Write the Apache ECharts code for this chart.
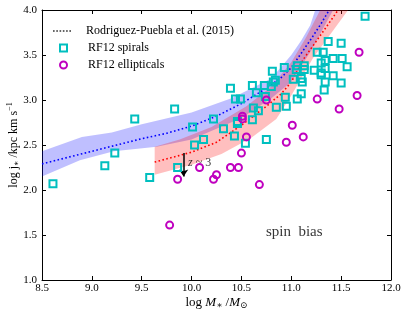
<!DOCTYPE html>
<html><head><meta charset="utf-8">
<script src="https://cdn.jsdelivr.net/npm/echarts@6/dist/echarts.min.js"></script>
<style>html,body{margin:0;padding:0;background:#fff}#c{width:407px;height:315px}</style>
</head><body><div id="c"></div>
<script>
// ---- data ----
const xTicks = [8.5, 12.0];  // x range, interval 0.5
const yTicks = [1.0, 4.0];   // y range, interval 0.5

const rpBlueLine = [[8.5,2.29],[8.75,2.36],[9.0,2.43],[9.25,2.50],[9.5,2.57],[9.75,2.63],[10.0,2.71],[10.25,2.82],[10.5,2.96],[10.75,3.13],[10.9,3.25],[11.0,3.36],[11.1,3.52],[11.2,3.68],[11.3,3.85],[11.38,4.0]];
const rpBlueUpper = [[8.5,2.43],[8.9,2.59],[9.2,2.64],[9.5,2.73],[10.0,2.86],[10.4,3.02],[10.8,3.24],[11.0,3.50],[11.1,3.66],[11.19,3.83],[11.24,4.0]];
const rpBlueLower = [[8.5,2.15],[8.88,2.33],[9.22,2.43],[9.65,2.48],[10.0,2.56],[10.5,2.80],[10.8,3.02],[11.0,3.20],[11.2,3.55],[11.42,4.0]];

const rpRedLine = [[9.63,2.31],[10.0,2.42],[10.25,2.53],[10.5,2.72],[10.75,2.93],[10.9,3.07],[11.0,3.20],[11.12,3.45],[11.3,3.73],[11.47,4.0]];
const rpRedUpper = [[9.63,2.48],[9.88,2.56],[10.2,2.70],[10.55,2.93],[10.8,3.15],[11.0,3.42],[11.15,3.70],[11.29,4.0]];
const rpRedLower = [[9.63,2.17],[10.0,2.28],[10.3,2.40],[10.6,2.58],[10.85,2.79],[11.0,3.05],[11.22,3.47],[11.57,4.0]];

const spirals = [[8.61,2.07],[9.13,2.27],[9.23,2.41],[9.43,2.79],[9.58,2.14],[9.83,2.90],[9.86,2.25],[10.01,2.70],[10.03,2.50],[10.12,2.56],[10.22,2.79],[10.32,2.68],[10.39,3.13],[10.43,2.60],[10.44,3.01],[10.46,2.76],[10.46,2.74],[10.49,3.01],[10.54,2.52],[10.61,3.16],[10.61,2.78],[10.62,2.91],[10.65,3.08],[10.67,2.88],[10.73,3.16],[10.74,3.04],[10.75,2.56],[10.80,3.15],[10.81,3.32],[10.82,3.20],[10.84,3.22],[10.85,2.92],[10.93,3.36],[10.94,3.03],[10.95,2.93],[11.02,3.23],[11.05,3.34],[11.06,3.38],[11.06,3.01],[11.10,3.24],[11.10,3.07],[11.11,3.20],[11.13,3.38],[11.13,3.34],[11.23,3.33],[11.26,3.53],[11.30,3.41],[11.30,3.30],[11.30,3.28],[11.32,3.53],[11.33,3.11],[11.34,3.44],[11.34,3.35],[11.34,3.20],[11.37,3.65],[11.42,3.46],[11.42,3.27],[11.50,3.63],[11.50,3.19],[11.51,3.46],[11.56,3.37],[11.74,3.93]];
const ellipticals = [[9.78,1.61],[9.86,2.12],[10.08,2.25],[10.22,2.12],[10.25,2.17],[10.39,2.25],[10.47,2.25],[10.50,2.41],[10.51,2.82],[10.51,2.79],[10.55,2.59],[10.68,2.06],[10.75,3.00],[10.95,2.53],[11.01,2.72],[11.12,2.59],[11.26,3.01],[11.48,2.90],[11.66,3.05],[11.68,3.53]];

const arrowFrom = [9.92, 2.41];
const arrowTo = [9.92, 2.15];
const zLabelPos = [10.08, 2.30];
const spinLabelPos = [11.03, 1.53];

const legendNames = ['Rodriguez-Puebla et al. (2015)', 'RF12 spirals', 'RF12 ellipticals'];

// ---- chart ----
const SERIF = '"Liberation Serif","DejaVu Serif",serif';
const DOTTED_ICON = 'path://M0 0h1.5v1.5H0zM3 0h1.5v1.5H3zM6 0h1.5v1.5H6zM9 0h1.5v1.5H9zM12 0h1.5v1.5H12zM15 0h1.5v1.5H15z';
const chart = echarts.init(document.getElementById('c'));

function band(upper, lower, color, z) {
  return {
    type: 'custom', silent: true, z: z, data: [[10, 2.5]],
    renderItem: function (params, api) {
      const pts = upper.map(p => api.coord(p)).concat(lower.slice().reverse().map(p => api.coord(p)));
      return { type: 'polygon', shape: { points: pts }, style: { fill: color } };
    }
  };
}

const axisCommon = {
  type: 'value', interval: 0.5, splitLine: { show: false },
  axisLine: { show: true, onZero: false, lineStyle: { color: '#000', width: 1 } },
  axisTick: { show: true, inside: true, length: 4, lineStyle: { color: '#000' } }
};

const legendText = { fontFamily: SERIF, fontSize: 12, color: '#000', lineHeight: 12 };

chart.setOption({
  animation: false,
  grid: { left: 42, right: 16, top: 10, bottom: 35, containLabel: false, outerBoundsMode: 'none' },
  xAxis: [
    Object.assign({}, axisCommon, {
      min: xTicks[0], max: xTicks[1], position: 'bottom',
      axisLabel: { color: '#000', fontFamily: SERIF, fontSize: 11, margin: 3, formatter: v => v.toFixed(1) },
      name: '{r|log }{i|M}{s|∗}{r| /}{i|M}{s|⊙}', nameLocation: 'middle', nameGap: 15, nameMoveOverlap: false,
      nameTextStyle: {
        fontFamily: SERIF, color: '#000',
        rich: {
          r: { fontFamily: SERIF, fontSize: 13, color: '#000' },
          i: { fontFamily: SERIF, fontSize: 13, fontStyle: 'italic', color: '#000' },
          s: { fontFamily: SERIF, fontSize: 9, color: '#000', padding: [6, 0, 0, 0] }
        }
      }
    }),
    Object.assign({}, axisCommon, {
      min: xTicks[0], max: xTicks[1], position: 'top', axisLabel: { show: false }
    })
  ],
  yAxis: [
    Object.assign({}, axisCommon, {
      min: yTicks[0], max: yTicks[1], position: 'left',
      axisLabel: { color: '#000', fontFamily: SERIF, fontSize: 11, margin: 5, formatter: v => v.toFixed(1) },
      name: '{r|log j}{s|∗}{r| /kpc km s}{p|−1}', nameLocation: 'middle', nameGap: 21, nameRotate: 90,
      nameMoveOverlap: false,
      nameTextStyle: {
        fontFamily: SERIF, color: '#000',
        rich: {
          r: { fontFamily: SERIF, fontSize: 12, color: '#000' },
          s: { fontFamily: SERIF, fontSize: 8, color: '#000', padding: [6, 0, 0, 0] },
          p: { fontFamily: SERIF, fontSize: 8, color: '#000', padding: [0, 0, 7, 0] }
        }
      }
    }),
    Object.assign({}, axisCommon, {
      min: yTicks[0], max: yTicks[1], position: 'right', axisLabel: { show: false }
    })
  ],
  legend: [
    {
      data: [{ name: legendNames[0], icon: DOTTED_ICON, itemStyle: { color: '#000', borderWidth: 0 } }],
      orient: 'vertical', left: 48, top: 20, itemWidth: 18, itemHeight: 8,
      textStyle: Object.assign({ padding: [0, 0, 0, 10] }, legendText), selectedMode: false
    },
    {
      data: [legendNames[1], legendNames[2]],
      orient: 'vertical', left: 54, top: 37, itemWidth: 7, itemHeight: 7, itemGap: 5,
      textStyle: Object.assign({ padding: [0, 0, 0, 16] }, legendText), selectedMode: false
    }
  ],
  series: [
    band(rpBlueUpper, rpBlueLower, 'rgba(0,0,255,0.25)', 1),
    band(rpRedUpper, rpRedLower, 'rgba(255,0,0,0.25)', 2),
    { type: 'line', name: 'rpBlue', data: rpBlueLine, symbol: 'none', z: 3, silent: true,
      lineStyle: { color: '#0000ff', width: 1.6, type: [1.6, 2.4] } },
    { type: 'line', name: 'rpRed', data: rpRedLine, symbol: 'none', z: 3, silent: true,
      lineStyle: { color: '#ff0000', width: 1.6, type: [1.6, 2.4] } },
    { type: 'scatter', name: legendNames[0], data: [], itemStyle: { color: '#000' } },
    { type: 'scatter', name: legendNames[1], data: spirals, symbol: 'rect', symbolSize: 7, z: 5,
      itemStyle: { color: 'rgba(255,255,255,0)', borderColor: '#00bfbf', borderWidth: 2, opacity: 1 } },
    { type: 'scatter', name: legendNames[2], data: ellipticals, symbol: 'circle', symbolSize: 7, z: 5,
      itemStyle: { color: 'rgba(255,255,255,0)', borderColor: '#bf00bf', borderWidth: 2, opacity: 1 } },
    { type: 'line', name: 'arrow', data: [], z: 6, silent: true,
      markLine: {
        silent: true, symbol: ['none', 'arrow'], symbolSize: 7, animation: false,
        label: { show: false },
        lineStyle: { color: '#000', width: 1.5, type: 'solid' },
        data: [[{ coord: arrowFrom }, { coord: arrowTo }]]
      } },
    { type: 'scatter', name: 'notes', silent: true, z: 7, symbolSize: 1,
      itemStyle: { color: 'rgba(0,0,0,0)' },
      data: [
        { value: zLabelPos, label: { show: true, position: 'inside', formatter: '{i|z}{r| ~ 3}',
          rich: { i: { fontFamily: SERIF, fontStyle: 'italic', fontSize: 12, color: '#000' },
                  r: { fontFamily: SERIF, fontSize: 12, color: '#000' } } } },
        { value: spinLabelPos, label: { show: true, position: 'inside', formatter: 'spin  bias',
          fontFamily: SERIF, fontSize: 15, color: '#000' } }
      ] }
  ]
});
</script>
</body></html>
